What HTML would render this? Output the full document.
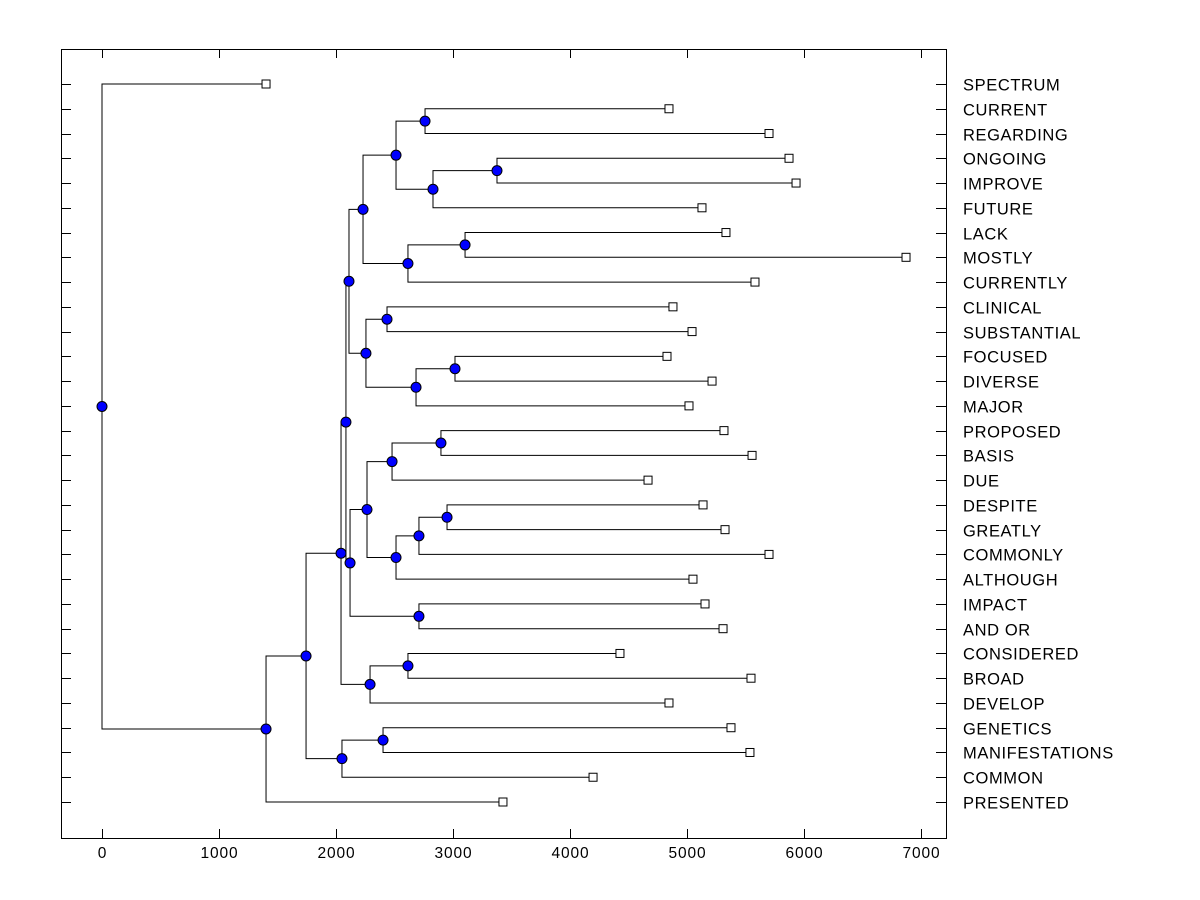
<!DOCTYPE html>
<html><head><meta charset="utf-8"><style>body{margin:0;background:#fff}svg{display:block}</style></head>
<body>
<svg id="c" width="1200" height="900" xmlns="http://www.w3.org/2000/svg" font-family="Liberation Sans, Arial, sans-serif"></svg>
<script>
const leafLabels=["SPECTRUM","CURRENT","REGARDING","ONGOING","IMPROVE","FUTURE","LACK","MOSTLY","CURRENTLY","CLINICAL","SUBSTANTIAL","FOCUSED","DIVERSE","MAJOR","PROPOSED","BASIS","DUE","DESPITE","GREATLY","COMMONLY","ALTHOUGH","IMPACT","AND OR","CONSIDERED","BROAD","DEVELOP","GENETICS","MANIFESTATIONS","COMMON","PRESENTED"];
const leafValues=[1402,4846,5701,5872,5932,5128,5333,6872,5581,4880,5043,4829,5214,5017,5316,5556,4667,5137,5325,5701,5051,5154,5308,4427,5547,4846,5376,5538,4197,3427];
// merges: [childA, childB, height]; leaves by label, nodes by merge index "#n"
const merges=[
["CURRENT","REGARDING",2761],//0
["ONGOING","IMPROVE",3376],//1
["#1","FUTURE",2829],//2
["#0","#2",2513],//3
["LACK","MOSTLY",3103],//4
["#4","CURRENTLY",2615],//5
["#3","#5",2231],//6
["CLINICAL","SUBSTANTIAL",2436],//7
["FOCUSED","DIVERSE",3017],//8
["#8","MAJOR",2684],//9
["#7","#9",2256],//10
["#6","#10",2111],//11
["PROPOSED","BASIS",2897],//12
["#12","DUE",2479],//13
["DESPITE","GREATLY",2949],//14
["#14","COMMONLY",2709],//15
["#15","ALTHOUGH",2513],//16
["#13","#16",2265],//17
["IMPACT","AND OR",2709],//18
["#17","#18",2120],//19
["#11","#19",2085],//20
["CONSIDERED","BROAD",2615],//21
["#21","DEVELOP",2291],//22
["#20","#22",2043],//23
["GENETICS","MANIFESTATIONS",2402],//24
["#24","COMMON",2051],//25
["#23","#25",1744],//26
["#26","PRESENTED",1402],//27
["SPECTRUM","#27",0]//28
];
const xTicks=[0,1000,2000,3000,4000,5000,6000,7000];
const L=61,R=946,T=49,B=838;
const X=v=>102+v*0.117;
const Yrow=i=>84+i*(802-84)/29;
const svg=document.getElementById('c');const NS="http://www.w3.org/2000/svg";
function mk(t,a,p){const e=document.createElementNS(NS,t);for(const k in a)e.setAttribute(k,a[k]);(p||svg).appendChild(e);return e;}
const frame=mk('rect',{x:L+.5,y:T+.5,width:R-L,height:B-T,fill:'none',stroke:'#000'});

const gt=mk('g',{stroke:'#000'});
xTicks.forEach(v=>{const x=Math.round(X(v))+.5;
mk('line',{x1:x,x2:x,y1:B,y2:B-9},gt);mk('line',{x1:x,x2:x,y1:T,y2:T+9},gt);
const t=mk('text',{x:x,y:858,'text-anchor':'middle','font-size':15.5,'letter-spacing':0.9,stroke:'none'});t.textContent=v;
});
leafLabels.forEach((s,i)=>{const y=Math.round(Yrow(i))+.5;
mk('line',{x1:L,x2:L+10,y1:y,y2:y},gt);mk('line',{x1:R-10,x2:R,y1:y,y2:y},gt);
const t=mk('text',{x:963,y:y+6,'font-size':16.5,'letter-spacing':0.6,stroke:'none'});t.textContent=s;
});
const pos={};leafLabels.forEach((s,i)=>pos[s]={x:X(leafValues[i]),y:Yrow(i),leaf:true});
const gl=mk('g',{stroke:'#000',fill:'none'});
const nodes=[];
merges.forEach((m,k)=>{const a=pos[m[0]],b=pos[m[1]];const x=X(m[2]);
mk('polyline',{points:`${a.x},${a.y} ${x},${a.y} ${x},${b.y} ${b.x},${b.y}`},gl);
pos['#'+k]={x:x,y:(a.y+b.y)/2};nodes.push(pos['#'+k]);});
leafLabels.forEach(s=>{const p=pos[s];const r=mk('rect',{x:p.x-4,y:p.y-4,width:8,height:8,fill:'#fff',stroke:'#000'});
});
nodes.forEach(p=>{const c=mk('circle',{cx:p.x,cy:p.y,r:5,fill:'#0000ff',stroke:'#000'});
});
</script>
</body></html>
